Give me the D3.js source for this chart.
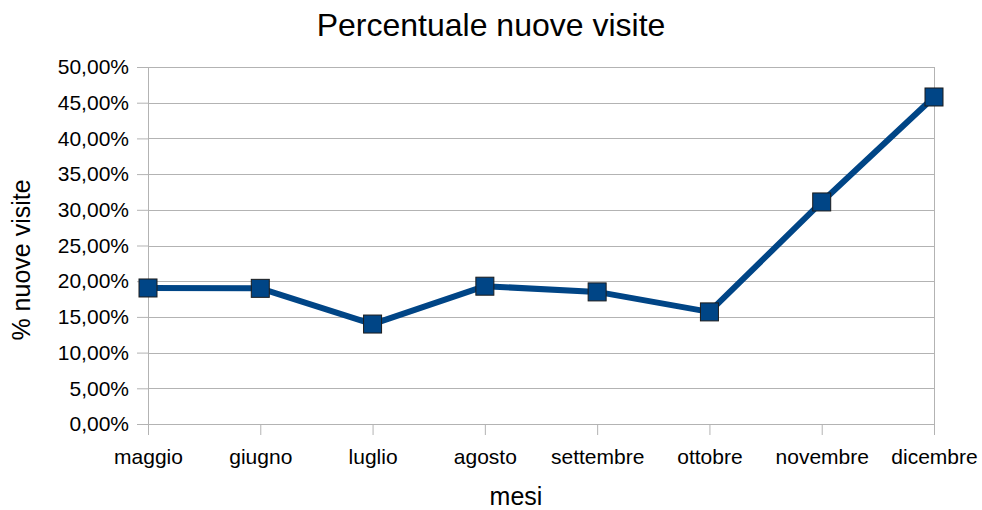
<!DOCTYPE html>
<html>
<head>
<meta charset="utf-8">
<script src="https://cdn.jsdelivr.net/npm/d3@7"></script>
<style>
  body { margin: 0; background: #fff; }
  svg { font-family: "Liberation Sans", Arial, sans-serif; }
</style>
</head>
<body>
<script>
var WIDTH = 982,
    HEIGHT = 510;

var months = ["maggio", "giugno", "luglio", "agosto", "settembre", "ottobre", "novembre", "dicembre"];
var newVisits = [19.05, 19.0, 14.0, 19.3, 18.5, 15.7, 31.1, 45.8];
var yTicks = [0, 5, 10, 15, 20, 25, 30, 35, 40, 45, 50];

var plotLeft = 148, plotRight = 934, plotTop = 67, plotBottom = 424;

var svg = d3.select("body").append("svg")
      .attr("width", WIDTH)
      .attr("height", HEIGHT);

var x = d3.scalePoint().domain(months).range([plotLeft, plotRight]);
var y = d3.scaleLinear().domain([0, 50]).range([plotBottom, plotTop]);

var fmt = function(d) { return d.toFixed(2).replace(".", ",") + "%"; };

// Grid lines
svg.append("g").selectAll("line").data(yTicks).enter().append("line")
  .attr("x1", plotLeft).attr("x2", plotRight)
  .attr("y1", function(d) { return Math.round(y(d)) + 0.5; })
  .attr("y2", function(d) { return Math.round(y(d)) + 0.5; })
  .attr("stroke", "#b3b3b3");

svg.append("line")
  .attr("x1", plotRight + 0.5).attr("x2", plotRight + 0.5)
  .attr("y1", plotTop).attr("y2", plotBottom)
  .attr("stroke", "#b3b3b3");

// y axis
var yAxis = svg.append("g")
  .attr("transform", "translate(" + plotLeft + ",0)")
  .call(d3.axisLeft(y).tickValues(yTicks).tickFormat(fmt).tickSize(11).tickPadding(8));
yAxis.select(".domain").attr("stroke", "#b3b3b3");
yAxis.selectAll(".tick line").attr("stroke", "#b3b3b3");
yAxis.selectAll(".tick text").attr("font-size", 21).attr("fill", "#000")
  .attr("font-family", "Liberation Sans, Arial, sans-serif");

// x axis
var xAxis = svg.append("g")
  .attr("transform", "translate(0," + plotBottom + ")")
  .call(d3.axisBottom(x).tickSize(11).tickPadding(14));
xAxis.select(".domain").attr("stroke", "#b3b3b3");
xAxis.selectAll(".tick line").attr("stroke", "#b3b3b3");
xAxis.selectAll(".tick text").attr("font-size", 21).attr("fill", "#000")
  .attr("font-family", "Liberation Sans, Arial, sans-serif");

// Line
var line = d3.line()
  .x(function(d, i) { return x(months[i]); })
  .y(function(d) { return y(d); });

svg.append("path")
  .datum(newVisits)
  .attr("d", line)
  .attr("fill", "none")
  .attr("stroke", "#004586")
  .attr("stroke-width", 6)
  .attr("stroke-linejoin", "round");

svg.selectAll(".marker").data(newVisits).enter().append("rect")
  .attr("class", "marker")
  .attr("x", function(d, i) { return x(months[i]) - 9; })
  .attr("y", function(d) { return y(d) - 9; })
  .attr("width", 18)
  .attr("height", 18)
  .attr("fill", "#004586")
  .attr("stroke", "#1c1c1c")
  .attr("stroke-width", 1);

// Titles
svg.append("text")
  .attr("x", 491).attr("y", 36)
  .attr("text-anchor", "middle")
  .attr("font-size", 32)
  .text("Percentuale nuove visite");

svg.append("text")
  .attr("x", 516).attr("y", 505)
  .attr("text-anchor", "middle")
  .attr("font-size", 25)
  .text("mesi");

svg.append("text")
  .attr("transform", "translate(30,260) rotate(-90)")
  .attr("text-anchor", "middle")
  .attr("font-size", 25)
  .text("% nuove visite");
</script>
</body>
</html>
